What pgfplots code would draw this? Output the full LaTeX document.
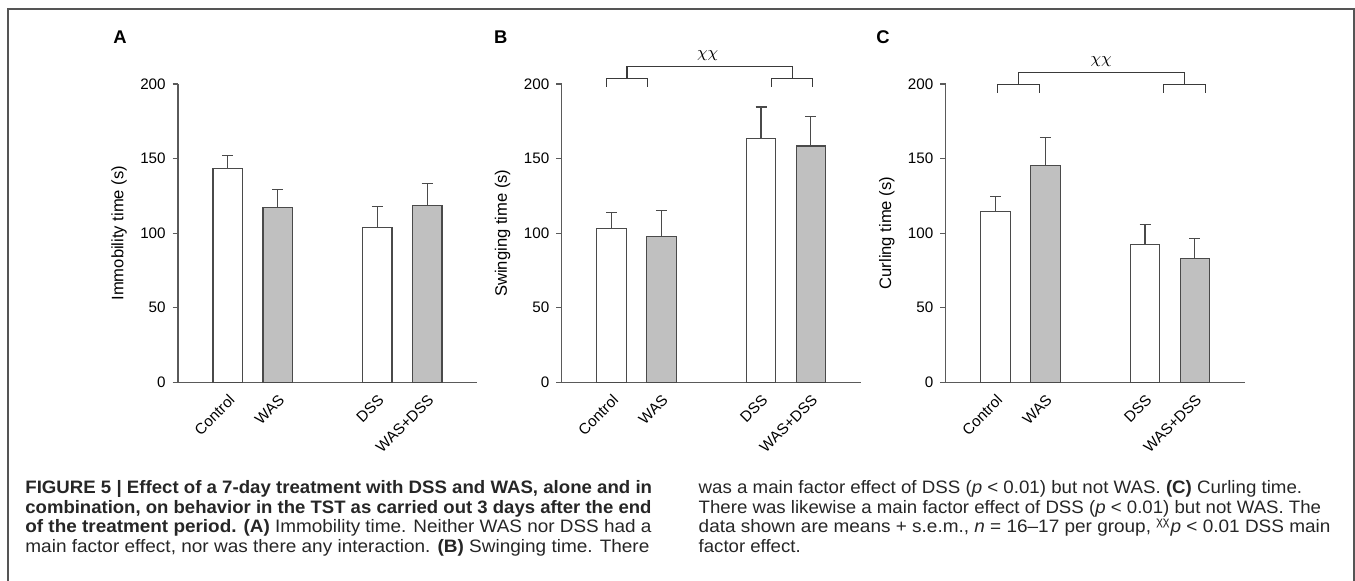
\documentclass[border=0pt]{standalone}
\usepackage{pgfplots}
\pgfplotsset{compat=1.18}
\usepackage{fontspec}
\setmainfont{Liberation Sans}
\usepackage{graphicx}
\definecolor{axgray}{HTML}{5A5A5A}
\definecolor{bargray}{HTML}{C0C0C0}
\definecolor{edgegray}{HTML}{4A4A4A}
\definecolor{brk}{HTML}{3A3A3A}
\definecolor{framegray}{HTML}{555555}
\definecolor{captext}{HTML}{262626}

\pgfplotsset{
 panel/.style={
  scale only axis, width=149.5pt, height=149.15pt,
  xmin=0, xmax=6, ymin=0, ymax=200,
  axis x line=bottom, axis y line=left,
  axis line style={-, draw=axgray, line width=0.55pt},
  ytick={0,50,100,150,200},
  xtick={1,2,4,5},
  xticklabels={Control,WAS,DSS,WAS+DSS},
  tick align=outside,
  major tick length=2.65pt,
  y tick style={draw=axgray, line width=0.55pt},
  x tick style={draw=none},
  tick label style={font=\fontsize{7.6}{8}\selectfont},
  /pgf/number format/assume math mode=true,
  x tick label style={yshift=2pt, rotate=45, anchor=north east},
  every axis y label/.style={at={(axis description cs:0,0.5)}, xshift=-29.5pt, rotate=90, anchor=center, font=\fontsize{8.3}{9}\selectfont},
  clip=false,
  ybar, bar width=14.75pt, bar shift=0pt,
  error bars/y dir=plus, error bars/y explicit,
  error bars/error bar style={draw=edgegray, line width=0.55pt},
  error bars/error mark options={rotate=90, mark size=2.75pt, draw=edgegray, line width=0.55pt},
 },
 whitebar/.style={fill=white, draw=edgegray, line width=0.6pt},
 graybar/.style={fill=bargray, draw=edgegray, line width=0.6pt},
}

\begin{document}
\begin{tikzpicture}
\useasboundingbox (0,0) rectangle (677.5pt,-290.5pt);
\draw[framegray, line width=0.7pt] (4pt,-290.5pt) -- (4pt,-4.5pt) -- (677pt,-4.5pt) -- (677pt,-290.5pt);

% Panel A
\begin{axis}[panel, at={(89pt,-191.15pt)}, anchor=origin, ylabel={Immobility time (s)}]
\addplot[whitebar] coordinates {(1,143.4) +- (0,8.7) (4,103.6) +- (0,14.5)};
\addplot[graybar] coordinates {(2,117.4) +- (0,12.1) (5,118.8) +- (0,14.3)};
\end{axis}

% Panel B
\begin{axis}[panel, at={(280.85pt,-191.15pt)}, anchor=origin, ylabel={Swinging time (s)}]
\addplot[whitebar] coordinates {(1,103.3) +- (0,10.8) (4,163.5) +- (0,21.1)};
\addplot[graybar] coordinates {(2,97.5) +- (0,17.7) (5,158.4) +- (0,19.7)};
\draw[brk, line width=0.55pt] (axis cs:0.89,198) |- (axis cs:1.73,203.6) -- (axis cs:1.73,198);
\draw[brk, line width=0.55pt] (axis cs:4.21,198) |- (axis cs:5.04,203.6) -- (axis cs:5.04,198);
\draw[brk, line width=0.55pt] (axis cs:1.31,203.6) |- (axis cs:4.63,211.8) -- (axis cs:4.63,203.6);
\node[font=\fontsize{8.3}{9}\selectfont] at (axis cs:2.93,219.2) {$\chi\chi$};
\end{axis}

% Panel C
\begin{axis}[panel, at={(472.85pt,-191.15pt)}, anchor=origin, ylabel={Curling time (s)}]
\addplot[whitebar] coordinates {(1,114.3) +- (0,10.3) (4,92.3) +- (0,13.3)};
\addplot[graybar] coordinates {(2,145.6) +- (0,18.8) (5,83) +- (0,13.4)};
\draw[brk, line width=0.55pt] (axis cs:1.04,194) |- (axis cs:1.88,199.5) -- (axis cs:1.88,194);
\draw[brk, line width=0.55pt] (axis cs:4.37,194) |- (axis cs:5.21,199.5) -- (axis cs:5.21,194);
\draw[brk, line width=0.55pt] (axis cs:1.46,199.5) |- (axis cs:4.79,208) -- (axis cs:4.79,199.5);
\node[font=\fontsize{8.3}{9}\selectfont] at (axis cs:3.12,215.3) {$\chi\chi$};
\end{axis}

\begin{scope}[x=0.5pt, y=-0.5pt]
\node[font=\fontsize{9.2}{10}\selectfont\bfseries] at (120,37.5) {A};
\node[font=\fontsize{9.2}{10}\selectfont\bfseries] at (500.8,37.5) {B};
\node[font=\fontsize{9.2}{10}\selectfont\bfseries] at (883,37.5) {C};

\begin{scope}[every node/.style={anchor=base west, inner sep=0pt, text=captext, font=\fontsize{9}{10}\selectfont}]
\node at (25,494) {\resizebox{313.35pt}{\height}{\textbf{FIGURE 5 | Effect of a 7-day treatment with DSS and WAS, alone and in}}};
\node at (25,513.5) {\resizebox{313pt}{\height}{\textbf{combination, on behavior in the TST as carried out 3 days after the end}}};
\node at (25,533) {\resizebox{313pt}{\height}{\textbf{of the treatment period. (A)} Immobility time. Neither WAS nor DSS had a}};
\node at (25,552.5) {\resizebox{312pt}{\height}{main factor effect, nor was there any interaction. \textbf{(B)} Swinging time. There}};
\node at (698.3,494) {\resizebox{301.7pt}{\height}{was a main factor effect of DSS (\textit{p} < 0.01) but not WAS. \textbf{(C)} Curling time.}};
\node at (698.3,513.5) {\resizebox{311.2pt}{\height}{There was likewise a main factor effect of DSS (\textit{p} < 0.01) but not WAS. The}};
\node at (698.3,533) {\resizebox{315.85pt}{\height}{data shown are means + s.e.m., \textit{n} = 16–17 per group, \textsuperscript{χχ}\textit{p} < 0.01 DSS main}};
\node at (698.3,552.5) {\resizebox{51pt}{\height}{factor effect.}};
\end{scope}
\end{scope}
\end{tikzpicture}
\end{document}
